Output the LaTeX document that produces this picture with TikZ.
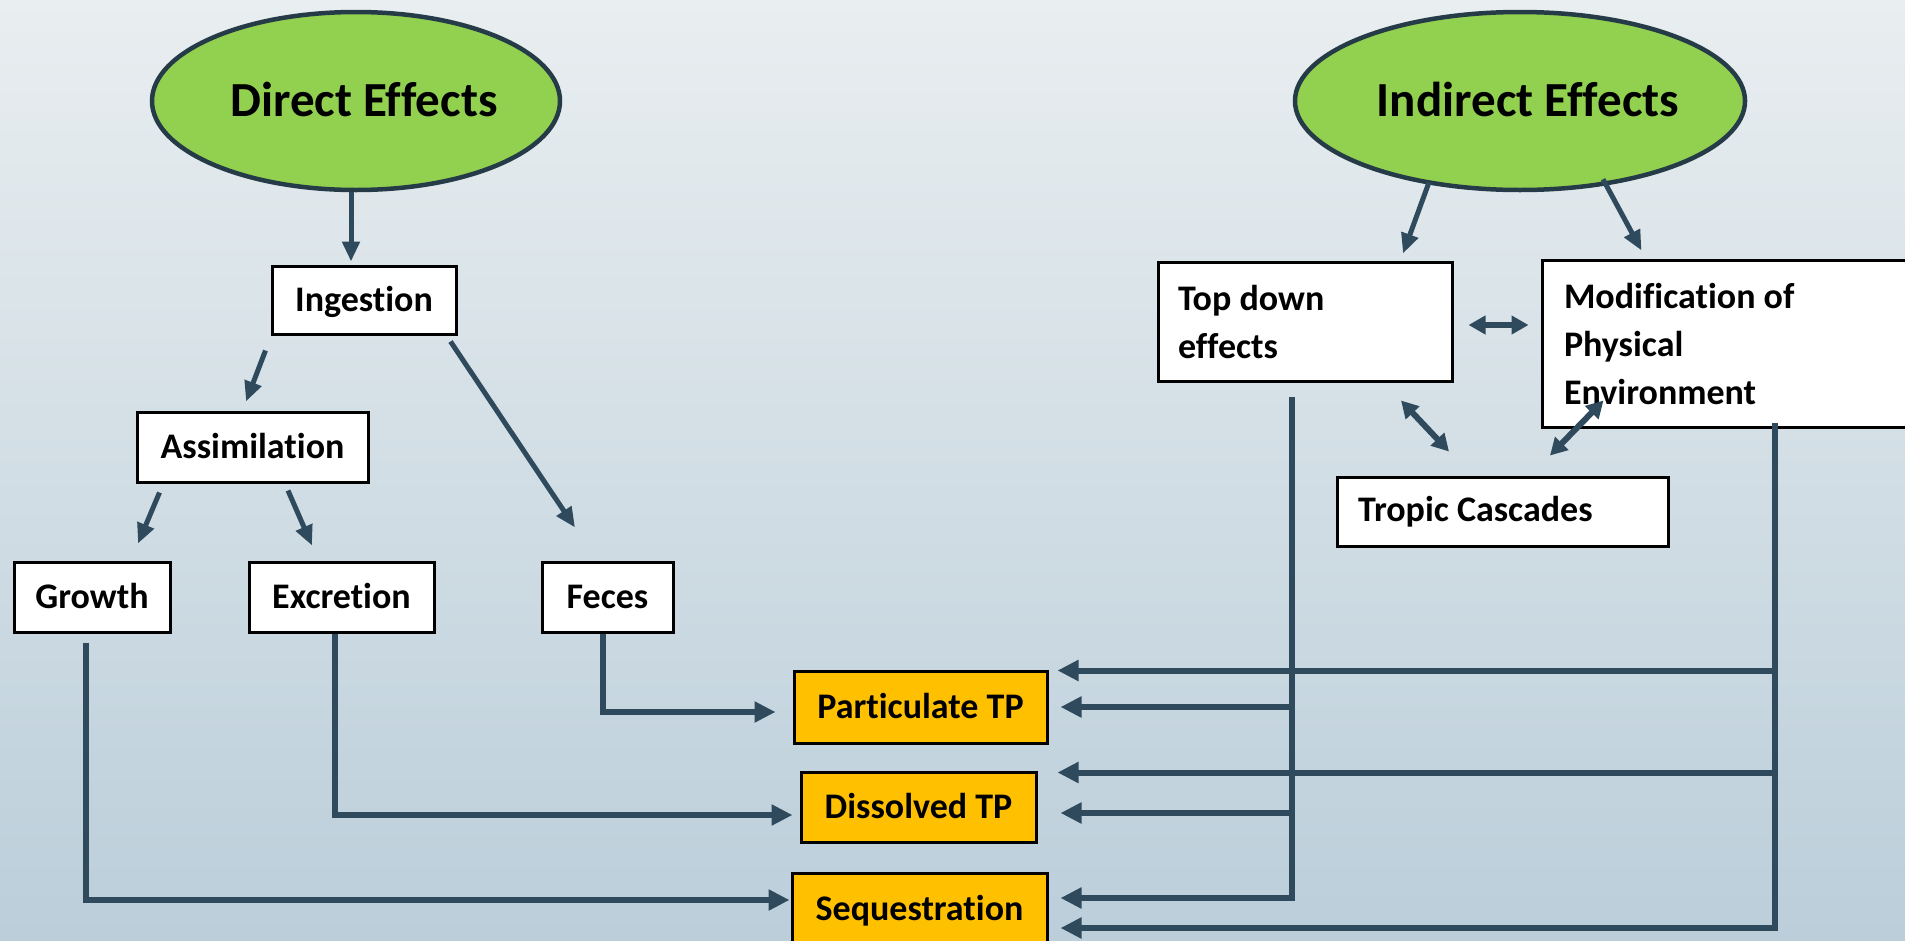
\documentclass[tikz,border=0pt]{standalone}
\usepackage{fontspec}
\setmainfont{Carlito}[Ligatures=NoCommon]
\usetikzlibrary{arrows.meta,shapes.geometric}
\definecolor{ln}{HTML}{2F4A5C}
\definecolor{eln}{HTML}{263B48}
\definecolor{eg}{HTML}{92D050}
\definecolor{og}{HTML}{FFC000}
\definecolor{bgtop}{HTML}{E9EEF0}
\definecolor{bgbot}{HTML}{BBCEDA}
\begin{document}
\begin{tikzpicture}[x=1pt,y=-1pt,
  box/.style={draw=black, line width=3pt, fill=white, inner sep=0pt,
    font=\fontsize{36}{47}\selectfont\bfseries, text height=30pt, text depth=7pt},
  obox/.style={box, fill=og},
  lbox/.style={draw=black, line width=3pt, fill=white, inner ysep=0pt,
    align=flush left, font=\fontsize{36}{48}\selectfont\bfseries},
  oval/.style={ellipse, draw=eln, line width=4.5pt, fill=eg, inner sep=0pt,
    font=\fontsize{49}{58}\selectfont\bfseries, text height=40pt, text depth=8.5pt},
  arr/.style={draw=ln, line width=6pt, -{Triangle[length=21pt,width=20pt]}},
  arrthin/.style={draw=ln, line width=5pt, -{Triangle[length=20pt,width=17pt]}},
  dbl/.style={draw=ln, line width=6pt, {Triangle[length=17pt,width=18pt]}-{Triangle[length=17pt,width=18pt]}}
]
\useasboundingbox (0,0) rectangle (1905,940);
\clip (0,0) rectangle (1905,940);
\shade[top color=bgtop, bottom color=bgbot] (0,0) rectangle (1905,940);

% ovals
\node[oval, minimum width=408pt, minimum height=178pt] (de) at (356,101) {\hspace*{16pt}Direct Effects};
\node[oval, minimum width=408pt, minimum height=178pt] (ie) at (1520,101) {\hspace*{16pt}Indirect Effects};

% left boxes
\node[box, minimum width=184pt, minimum height=68pt] (ing) at (364,300) {Ingestion};
\node[box, minimum width=231pt, minimum height=70pt] (asm) at (252.5,447) {Assimilation};
\node[box, minimum width=156pt, minimum height=70pt] (gro) at (92,597) {Growth};
\node[box, minimum width=185pt, minimum height=70pt] (exc) at (341.5,597) {Excretion};
\node[box, minimum width=131pt, minimum height=70pt] (fec) at (607.5,597) {Feces};

% orange boxes
\node[obox, minimum width=253pt, minimum height=72pt] (par) at (920.5,707) {Particulate TP};
\node[obox, minimum width=235pt, minimum height=70pt] (dis) at (918.5,807) {Dissolved TP};
\node[obox, minimum width=255pt, minimum height=72pt] (seq) at (919.5,909) {Sequestration};

% right boxes
\node[lbox, inner xsep=20pt, text width=254pt, minimum height=119pt] (td) at (1305,321.5) {\spaceskip=0pt\xspaceskip=0pt\relax Top down\\effects};
\node[lbox, inner xsep=22pt, text width=354pt, minimum height=167pt] (mod) at (1741,343.5) {\spaceskip=0pt\xspaceskip=0pt\relax Modification of\\Physical\\Environment};
\node[lbox, inner xsep=21pt, text width=289pt, minimum height=69pt] (tro) at (1502.5,511.5) {\spaceskip=0pt\xspaceskip=0pt\relax Tropic Cascades};

% direct effects connectors
\draw[arrthin] ([shift={(-5,0)}]de.south) -- ([shift={(-13,-3)}]ing.north);
\draw[arrthin] ([shift={(-5,15)}]ing.south west) -- ([shift={(-6.5,-9)}]asm.north);
\draw[arrthin] ([shift={(-7,6)}]ing.south east) -- ([shift={(-32.5,-33)}]fec.north);
\draw[arrthin] ([shift={(24,9)}]asm.south west) -- ([shift={(46,-17)}]gro.north);
\draw[arrthin] ([shift={(35.5,7)}]asm.south) -- ([shift={(-29.5,-15)}]exc.north);

\draw[arr] ([xshift=-4.5pt]fec.south) |- ([shift={(-17,5)}]par.west);
\draw[arr] ([xshift=-6.5pt]exc.south) |- ([shift={(-7,8)}]dis.west);
\draw[arr] ([shift={(-6,9)}]gro.south) |- ([shift={(-1,-9)}]seq.west);

% indirect effects connectors
\draw[arrthin] ([shift={(-91,-10)}]ie.south) -- ([shift={(98,-7)}]td.north);
\draw[arrthin] ([shift={(83,-13)}]ie.south) -- ([shift={(101,-8)}]mod.north west);
\draw[dbl] ([shift={(15,3.5)}]td.east) -- ([shift={(-12,-18.5)}]mod.west);
\draw[dbl] ([shift={(96,18)}]td.south) -- ([shift={(-53.5,-24)}]tro.north);
\draw[dbl] ([shift={(63,-28)}]mod.south west) -- ([shift={(47.5,-20)}]tro.north);

% feed lines into TP boxes
\coordinate (tv) at ([shift={(-13,14)}]td.south);
\coordinate (mv) at ([shift={(234,-6)}]mod.south west);
\coordinate (p1) at ([shift={(9,1)}]par.north east);
\coordinate (p2) at ([shift={(12,0)}]par.east);
\coordinate (d1) at ([shift={(20,2)}]dis.north east);
\coordinate (d2) at ([shift={(23,6)}]dis.east);
\coordinate (s1) at ([shift={(12,19)}]seq.east);
\coordinate (s2) at ([shift={(12,-11)}]seq.east);

\draw[arr] (mv) |- (s1);
\draw[arr] (mv |- p1) -- (p1);
\draw[arr] (mv |- d1) -- (d1);
\draw[arr] (tv) |- (s2);
\draw[arr] (tv |- p2) -- (p2);
\draw[arr] (tv |- d2) -- (d2);
\end{tikzpicture}
\end{document}
